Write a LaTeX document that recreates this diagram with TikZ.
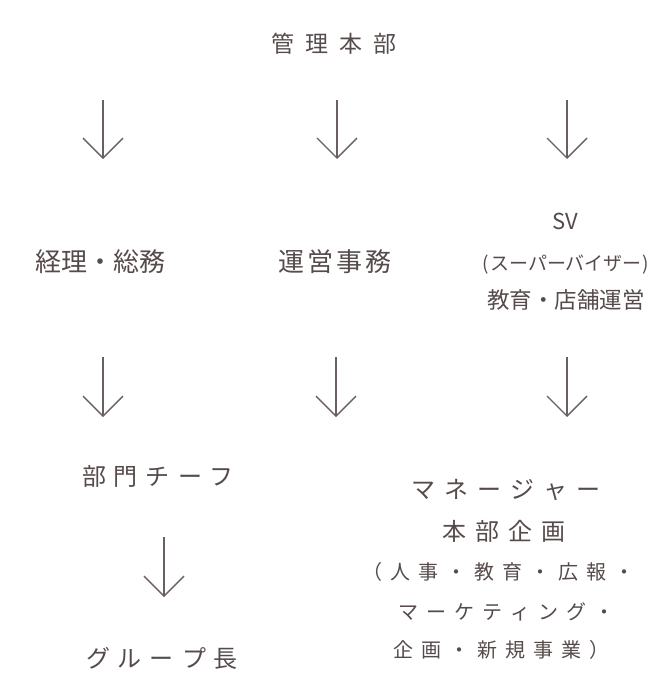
\documentclass[tikz,border=0pt]{standalone}
\usepackage{fontspec}
\setmainfont{Noto Sans CJK JP}
\usetikzlibrary{arrows.meta}
\definecolor{txt}{HTML}{564B4B}
\definecolor{arrc}{HTML}{6B6060}
\makeatletter
\newcommand\trk[2]{\def\trk@f{1}\@tfor\trk@c:=#2\do{\ifx\trk@f\empty\hspace{#1}\fi\trk@c\def\trk@f{}}}
\makeatother
\newcommand\fs[1]{\fontsize{#1pt}{#1pt}\selectfont}
\tikzset{
  lbl/.style={inner sep=0pt, text=txt, anchor=center},
  arr/.style={draw=arrc, line width=1.4pt, -{Straight Barb[length=20pt,width=40pt]}}
}
\begin{document}
\begin{tikzpicture}[x=1pt,y=-1pt]
\useasboundingbox[fill=white] (0,0) rectangle (668,696);
% nodes
\node[lbl] (top) at (334,44) {\fs{23}\trk{11pt}{管理本部}};
\node[lbl] (keiri) at (100,262) {\fs{26}経理・総務};
\node[lbl] (unei) at (335,262) {\fs{26}\trk{3pt}{運営事務}};
\node[lbl] (sv) at (565,221) {\fs{22}SV};
\node[lbl] (sv2) at (566,265) {\fs{19}(\kern1pt スーパーバイザー\kern1pt)};
\node[lbl] (sv3) at (566,300) {\fs{22.5}教育・店舗運営};
\node[lbl] (chief) at (158,476) {\fs{24}\trk{8pt}{部門チーフ}};
\node[lbl] (group) at (162,658) {\fs{24}\trk{8pt}{グループ長}};
\node[lbl] (m1) at (506,490) {\fs{24}\trk{9pt}{マネージャー}};
\node[lbl] (m2) at (504,531) {\fs{24}\trk{9pt}{本部企画}};
\node[lbl] (m3) at (498,572) {\fs{20}\trk{8pt}{（人事・教育・広報・}};
\node[lbl] (m4) at (506,612) {\fs{20}\trk{8pt}{マーケティング・}};
\node[lbl] (m5) at (501,650) {\fs{20}\trk{8pt}{企画・新規事業）}};
% arrow end points
\coordinate (a1s) at (103,100); \coordinate (a1e) at (103,159);
\coordinate (a2s) at (337,100); \coordinate (a2e) at (337,159);
\coordinate (a3s) at (567,100); \coordinate (a3e) at (567,159);
\coordinate (b1s) at (103,357); \coordinate (b1e) at (103,417);
\coordinate (b2s) at (336,357); \coordinate (b2e) at (336,417);
\coordinate (b3s) at (567,357); \coordinate (b3e) at (567,417);
\coordinate (c1s) at (164,537); \coordinate (c1e) at (164,597);
\draw[arr] (a1s) -- (a1e);
\draw[arr] (a2s) -- (a2e);
\draw[arr] (a3s) -- (a3e);
\draw[arr] (b1s) -- (b1e);
\draw[arr] (b2s) -- (b2e);
\draw[arr] (b3s) -- (b3e);
\draw[arr] (c1s) -- (c1e);
\end{tikzpicture}
\end{document}
